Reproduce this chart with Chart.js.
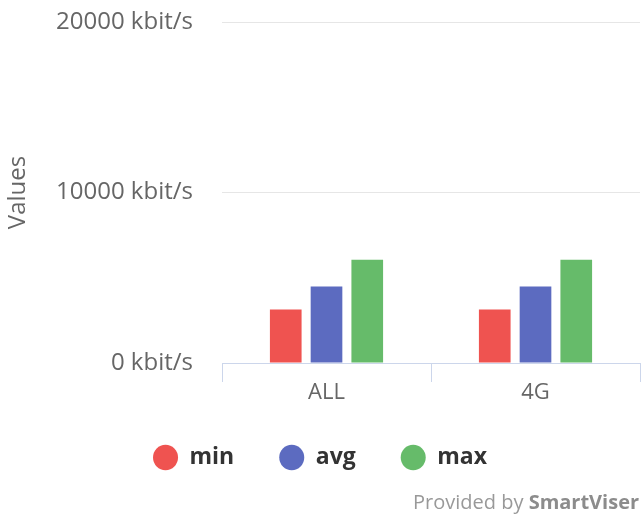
<!DOCTYPE html>
<html>
<head>
<meta charset="utf-8">
<script src="https://cdn.jsdelivr.net/npm/chart.js@4"></script>
<style>
  html, body { margin: 0; padding: 0; background: #fff; overflow: hidden; }
  #wrap { width: 641px; height: 515px; }
</style>
</head>
<body>
<div id="wrap"><canvas id="myChart" width="641" height="515"></canvas></div>
<script>
const categories = ['ALL', '4G'];
const minValues = [3140, 3140];
const avgValues = [4480, 4480];
const maxValues = [6050, 6050];
const yTicks = [0, 10000, 20000];

const FONT = '"Open Sans", "Noto Sans", sans-serif';

// "Provided by SmartViser" credit line, bottom right
const credits = {
  id: 'credits',
  afterDraw(chart) {
    const c = chart.ctx;
    c.save();
    c.textBaseline = 'alphabetic';
    c.textAlign = 'left';
    c.fillStyle = '#999999';
    c.font = '20px ' + FONT;
    const pre = 'Provided by ';
    c.fillText(pre, 413, 509);
    const w = c.measureText(pre).width;
    c.font = 'bold 20px ' + FONT;
    c.fillStyle = '#8c8c8c';
    c.fillText('SmartViser', 413 + w, 509);
    c.restore();
  }
};

const ctx = document.getElementById('myChart').getContext('2d');
const myChart = new Chart(ctx, {
  type: 'bar',
  data: {
    labels: categories,
    datasets: [
      { label: 'min', data: minValues, backgroundColor: '#ef5350' },
      { label: 'avg', data: avgValues, backgroundColor: '#5c6bc0' },
      { label: 'max', data: maxValues, backgroundColor: '#66bb6a' }
    ]
  },
  options: {
    responsive: false,
    animation: false,
    categoryPercentage: 0.585,
    barPercentage: 0.777,
    layout: { padding: { top: 22, right: 1, bottom: 36, left: 0 } },
    scales: {
      x: {
        grid: {
          offset: true,
          drawOnChartArea: false,
          drawTicks: true,
          tickLength: 19,
          color: '#ccd6eb'
        },
        border: { color: '#ccd6eb', width: 1 },
        ticks: {
          padding: 0,
          color: '#666666',
          font: { family: FONT, size: 22, lineHeight: 1 }
        },
        afterFit: s => { s.height = 38; }
      },
      y: {
        min: 0,
        max: 20000,
        afterBuildTicks: s => { s.ticks = yTicks.map(v => ({ value: v })); },
        grid: { color: '#e6e6e6', drawTicks: false },
        border: { display: false },
        ticks: {
          padding: 29,
          color: '#666666',
          font: { family: FONT, size: 24 },
          callback: v => v + ' kbit/s'
        },
        title: {
          display: true,
          text: 'Values',
          color: '#666666',
          font: { family: FONT, size: 24 },
          padding: { top: 4, bottom: 4 }
        },
        afterFit: s => {
          s.width = 222;
          s.paddingTop = 0;
          s.paddingBottom = 0;
        }
      }
    },
    plugins: {
      legend: {
        position: 'bottom',
        maxHeight: 80,
        labels: {
          usePointStyle: true,
          pointStyle: 'circle',
          pointStyleWidth: 25,
          boxHeight: 18,
          padding: 45,
          color: '#333333',
          font: { family: FONT, size: 23, weight: 'bold' }
        }
      },
      tooltip: { enabled: false }
    }
  },
  plugins: [credits]
});
</script>
</body>
</html>
